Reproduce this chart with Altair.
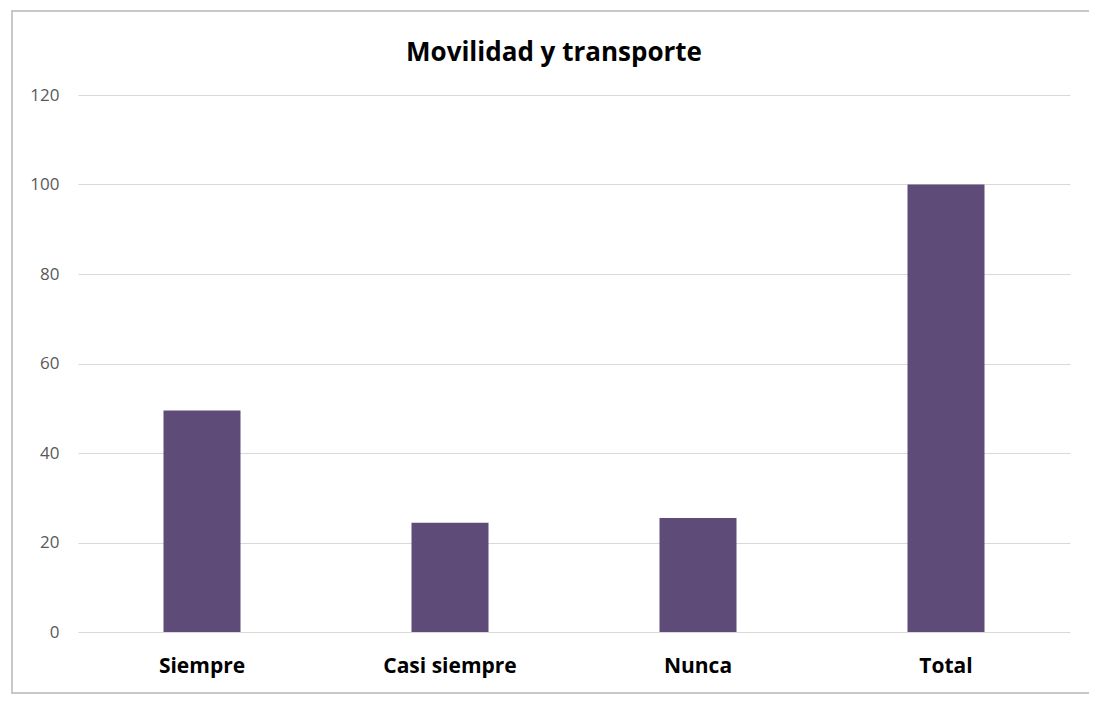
import altair as alt
import pandas as pd

categories = ["Siempre", "Casi siempre", "Nunca", "Total"]
values = [49.5, 24.4, 25.5, 100]
title_text = "Movilidad y transporte"

df = pd.DataFrame({"categoria": categories, "valor": values})

bars = alt.Chart(df).mark_bar(color="#5F4B78", width=77).encode(
    x=alt.X("categoria:N", sort=categories,
            scale=alt.Scale(paddingInner=0.69, paddingOuter=0.345),
            axis=alt.Axis(title=None, labelAngle=0, labelFont="Open Sans",
                          labelFontWeight="bold", labelFontSize=21,
                          labelColor="#000000", labelPadding=23,
                          domain=False, ticks=False)),
    y=alt.Y("valor:Q", scale=alt.Scale(domain=[0, 120], nice=False),
            axis=alt.Axis(title=None, values=[0, 20, 40, 60, 80, 100, 120],
                          labelFont="Open Sans", labelFontSize=17,
                          labelColor="#595959", labelPadding=19,
                          domain=False, ticks=False,
                          gridColor="#D9D9D9", gridWidth=1.2))
)

frame = alt.Chart(pd.DataFrame({"a": [0]})).mark_rect(
    fill=None, stroke="#C8C8C8", strokeWidth=2
).encode(
    x=alt.value(-66), x2=alt.value(1012),
    y=alt.value(-84), y2=alt.value(598)
)

title = alt.Chart(pd.DataFrame({"t": [title_text]})).mark_text(
    font="Open Sans", fontSize=26, fontWeight="bold", color="#000000",
    align="center", baseline="alphabetic"
).encode(
    text="t:N", x=alt.value(476), y=alt.value(-34)
)

chart = alt.layer(frame, bars, title).properties(
    width=992, height=537,
    autosize=alt.AutoSizeParams(type="none"),
    padding={"left": 70, "top": 87, "right": 19, "bottom": 64}
).configure_view(stroke=None)

chart.save("out.html", embed_options={"renderer": "svg", "actions": False})
